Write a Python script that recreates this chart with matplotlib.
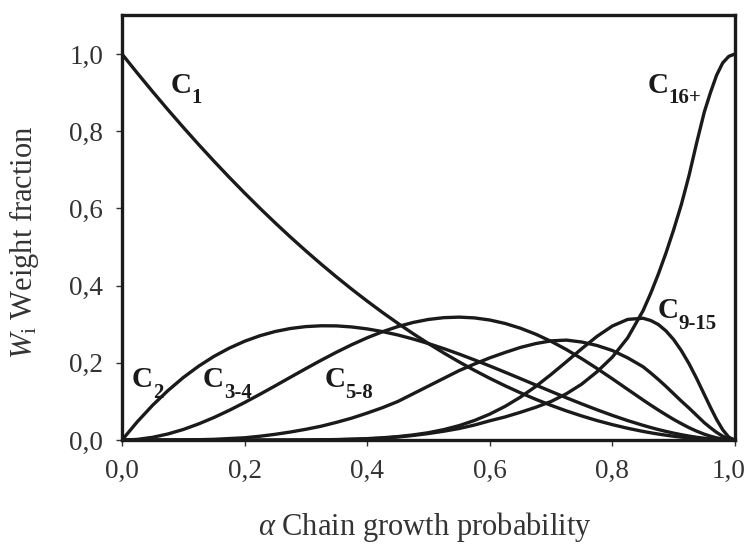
import numpy as np
import matplotlib
matplotlib.use("Agg")
import matplotlib.pyplot as plt
from matplotlib.transforms import ScaledTranslation

plt.rcParams['font.family'] = ['Liberation Serif', 'DejaVu Serif']
plt.rcParams['mathtext.fontset'] = 'custom'
plt.rcParams['mathtext.rm'] = 'Liberation Serif'
plt.rcParams['mathtext.it'] = 'Liberation Serif:italic'
plt.rcParams['mathtext.bf'] = 'Liberation Serif:bold'

# chain growth probability (x) and weight fractions
alpha = [0, .025, .05, .075, .1, .125, .15, .175, .2, .225, .25, .275, .3, .325,
         .35, .375, .4, .425, .45, .475, .5, .525, .55, .575, .6, .625, .65, .675,
         .7, .725, .75, .775, .8, .825, .85, .8625, .875, .8875, .9, .9125, .925,
         .9375, .95, .96, .97, .98, .99, 1.0]
c1 = [1, .9506, .9025, .8556, .81, .7656, .7225, .6806, .64, .6006, .5625, .5256,
      .49, .4556, .4225, .3906, .36, .3306, .3025, .2756, .25, .2256, .2025, .1806,
      .16, .1406, .1225, .1056, .09, .0756, .0625, .0506, .04, .0306, .0225, .0189,
      .0156, .0127, .01, .0077, .0056, .0039, .0025, .0016, .0009, .0004, .0001, 0]
c2 = [0, .0475, .0903, .1283, .162, .1914, .2168, .2382, .256, .2703, .2813, .2891,
      .294, .2961, .2958, .293, .288, .281, .2723, .2618, .25, .2369, .2228, .2077,
      .192, .1758, .1593, .1426, .126, .1096, .0938, .0785, .064, .0505, .0383, .0326,
      .0273, .0225, .018, .014, .0104, .0073, .0048, .0031, .0017, .0008, .0002, 0]
c3_4 = [0, .0018, .0072, .0159, .0275, .0419, .0585, .0771, .0973, .1186, .1406, .163,
        .1852, .2069, .2277, .2472, .265, .2807, .294, .3047, .3125, .3171, .3185,
        .3165, .311, .3021, .2898, .2743, .2558, .2345, .2109, .1854, .1587, .1313,
        .104, .0907, .0778, .0655, .0535, .0426, .0322, .0231, .0153, .0101, .0058,
        .0027, .0007, 0]
c5_8 = [0, 0, 0, 0, .0005, .001, .002, .004, .006, .010, .015, .021, .028, .036, .046,
        .057, .07, .084, .10, .12, .14, .16, .18, .197, .213, .227, .24, .25, .257,
        .259, .254, .245, .232, .213, .19, .174, .157, .139, .12, .101, .083, .064,
        .045, .032, .02, .01, .003, 0]
c9_15 = [0, 0, 0, 0, 0, 0, 0, 0, 0, 0, .0001, .0002, .0004, .0008, .0014, .0023, .0038,
         .006, .0091, .0134, .0192, .0272, .0375, .0508, .0673, .0874, .1113, .1389,
         .170, .203, .2367, .2687, .2955, .3126, .3156, .3098, .2994, .2827, .2603,
         .2317, .198, .1594, .118, .0848, .0535, .0267, .0074, 0]
c16 = [0, 0, 0, 0, 0, 0, 0, 0, 0, 0, 0, 0, 0, .0005, .001, .002, .003, .005, .008, .012,
       .017, .023, .03, .039, .05, .06, .072, .085, .10, .12, .145, .177, .215, .265,
       .335, .38, .43, .485, .545, .61, .685, .77, .85, .90, .945, .977, .994, 1.0]

series = [c1, c2, c3_4, c5_8, c9_15, c16]

# label text: (x, y, subscript)
labels = [(.080, .899, '1'), (.858, .899, '16+'), (.874, .316, '9-15'),
          (.016, .137, '2'), (.132, .137, '3-4'), (.330, .137, '5-8')]

xticks = [0, .2, .4, .6, .8, 1.0]
yticks = [0, .2, .4, .6, .8, 1.0]

fig = plt.figure(figsize=(7.47, 5.44), dpi=100)
ax = fig.add_axes([0.1633, 0.191, 0.8206, 0.7807])

for s in series:
    ax.plot(alpha, s, color='#1a1a1a', lw=2.4, solid_joinstyle='round')

for x, y, sub in labels:
    ax.text(x, y, 'C', fontsize=21, fontweight='bold', ha='left', va='baseline',
            color='#1a1a1a')
    ax.annotate(sub, (x, y), xytext=(15, -7.5), textcoords='offset points',
                fontsize=15, fontweight='bold', ha='left', va='baseline',
                color='#1a1a1a')

ax.set_xlim(0, 1)
ax.set_ylim(0, 1.1)
ax.set_xticks(xticks)
ax.set_yticks(yticks)
ax.set_xticklabels([f'{t:.1f}'.replace('.', ',') for t in xticks])
ax.set_yticklabels([f'{t:.1f}'.replace('.', ',') for t in yticks])
ax.tick_params(direction='out', length=4.5, width=1, labelsize=19.5,
               colors='#333333', pad=9)
# last x label sits against the right edge of the picture
last = ax.get_xticklabels()[-1]
last.set_transform(last.get_transform() + ScaledTranslation(-6 / 100, 0, fig.dpi_scale_trans))
for sp in ax.spines.values():
    sp.set_linewidth(2.4)
    sp.set_color('#1a1a1a')

fig.text(425 / 747, 1 - 527 / 544, r'$\alpha$ Chain growth probability',
         fontsize=22, ha='center', va='center', color='#333333')
fig.text(24 / 747, 1 - 242 / 544, r'$W_{\mathrm{i}}$ Weight fraction',
         fontsize=22, ha='center', va='center', rotation=90, color='#333333')

fig.savefig('out.png', dpi=100)
